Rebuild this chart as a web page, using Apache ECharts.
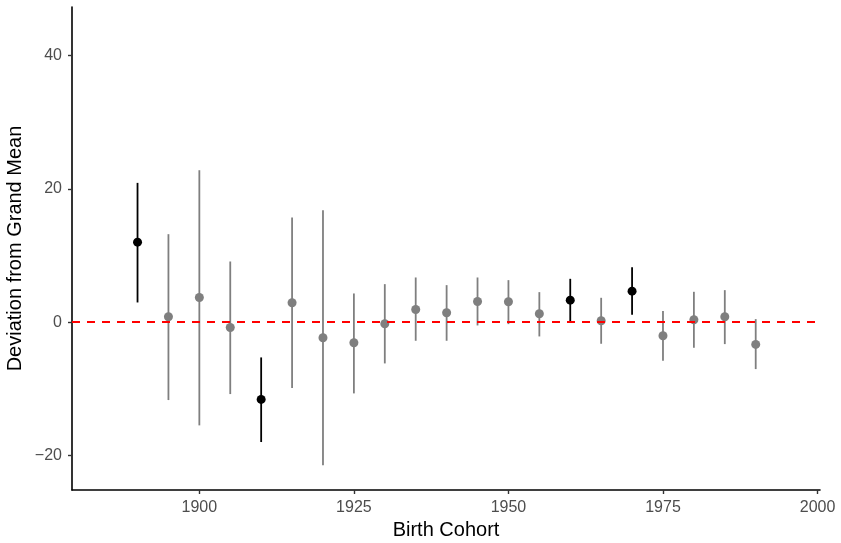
<!DOCTYPE html>
<html>
<head>
<meta charset="utf-8">
<script src="https://cdn.jsdelivr.net/npm/echarts@6/dist/echarts.min.js"></script>
<style>
  html, body { margin: 0; padding: 0; background: #fff; }
  #chart { width: 841px; height: 543px; }
</style>
</head>
<body>
<div id="chart"></div>
<script>
// birth cohorts and estimated deviations, with 95% interval bounds
var cohorts = [1890, 1895, 1900, 1905, 1910, 1915, 1920, 1925, 1930, 1935, 1940,
               1945, 1950, 1955, 1960, 1965, 1970, 1975, 1980, 1985, 1990];
var estimate = [12.0, 0.8, 3.7, -0.8, -11.6, 2.9, -2.35, -3.1, -0.25, 1.9, 1.4,
                3.1, 3.05, 1.25, 3.3, 0.2, 4.65, -2.05, 0.35, 0.8, -3.35];
var lower = [2.95, -11.7, -15.5, -10.8, -18.0, -9.9, -21.5, -10.7, -6.2, -2.8, -2.8,
             -0.5, -0.3, -2.15, 0.12, -3.25, 1.1, -5.8, -3.85, -3.3, -7.05];
var upper = [20.9, 13.2, 22.8, 9.1, -5.3, 15.7, 16.8, 4.3, 5.7, 6.7, 5.55,
             6.7, 6.3, 4.5, 6.5, 3.65, 8.25, 1.65, 4.55, 4.8, 0.45];
var xTicks = [1900, 1925, 1950, 1975, 2000];
var yTicks = [-20, 0, 20, 40];

// an interval that excludes zero is drawn in black
function colorFor(i) {
  return (lower[i] > 0 || upper[i] < 0) ? '#000000' : '#7f7f7f';
}

var barData = cohorts.map(function (c, i) { return [c, lower[i], upper[i], i]; });
var pointData = cohorts.map(function (c, i) {
  return { value: [c, estimate[i]], itemStyle: { color: colorFor(i), opacity: 1 } };
});

var chart = echarts.init(document.getElementById('chart'));
var font = 'Liberation Sans, Arial, Helvetica, sans-serif';

var option = {
  animation: false,
  grid: { left: 72, right: 21, top: 7, bottom: 53, outerBoundsMode: 'none', containLabel: false },
  xAxis: {
    type: 'value',
    min: 1879.4,
    max: 2000.4,
    name: 'Birth Cohort',
    nameLocation: 'middle',
    nameGap: 30,
    nameMoveOverlap: false,
    nameTextStyle: { fontFamily: font, fontSize: 20, color: '#000' },
    axisLine: { show: true, onZero: false, lineStyle: { color: '#000', width: 1.6 } },
    axisTick: { show: true, length: 4, customValues: xTicks, lineStyle: { color: '#333', width: 1.4 } },
    axisLabel: {
      customValues: xTicks, margin: 10, fontFamily: font, fontSize: 16, color: '#4d4d4d',
      formatter: function (v) { return String(v); }
    },
    splitLine: { show: false }
  },
  yAxis: {
    type: 'value',
    min: -25.2,
    max: 47.3,
    name: 'Deviation from Grand Mean',
    nameLocation: 'middle',
    nameGap: 47,
    nameMoveOverlap: false,
    nameTextStyle: { fontFamily: font, fontSize: 20, color: '#000' },
    axisLine: { show: true, onZero: false, lineStyle: { color: '#000', width: 1.6 } },
    axisTick: { show: true, length: 4, customValues: yTicks, lineStyle: { color: '#333', width: 1.4 } },
    axisLabel: {
      customValues: yTicks, margin: 10, fontFamily: font, fontSize: 16, color: '#4d4d4d',
      formatter: function (v) { return String(v).replace('-', '\u2212'); }
    },
    splitLine: { show: false }
  },
  series: [
    {
      type: 'custom',
      data: barData,
      z: 2,
      renderItem: function (params, api) {
        var top = api.coord([api.value(0), api.value(2)]);
        var bot = api.coord([api.value(0), api.value(1)]);
        return {
          type: 'line',
          shape: { x1: top[0], y1: top[1], x2: bot[0], y2: bot[1] },
          style: { stroke: colorFor(api.value(3)), lineWidth: 1.8 }
        };
      }
    },
    {
      type: 'scatter',
      data: pointData,
      symbolSize: 9,
      z: 3,
      markLine: {
        silent: true,
        symbol: 'none',
        label: { show: false },
        emphasis: { disabled: true },
        lineStyle: { color: '#ff0000', type: [8, 7], width: 2, opacity: 1 },
        data: [{ yAxis: 0 }]
      }
    }
  ]
};

chart.setOption(option);
</script>
</body>
</html>
